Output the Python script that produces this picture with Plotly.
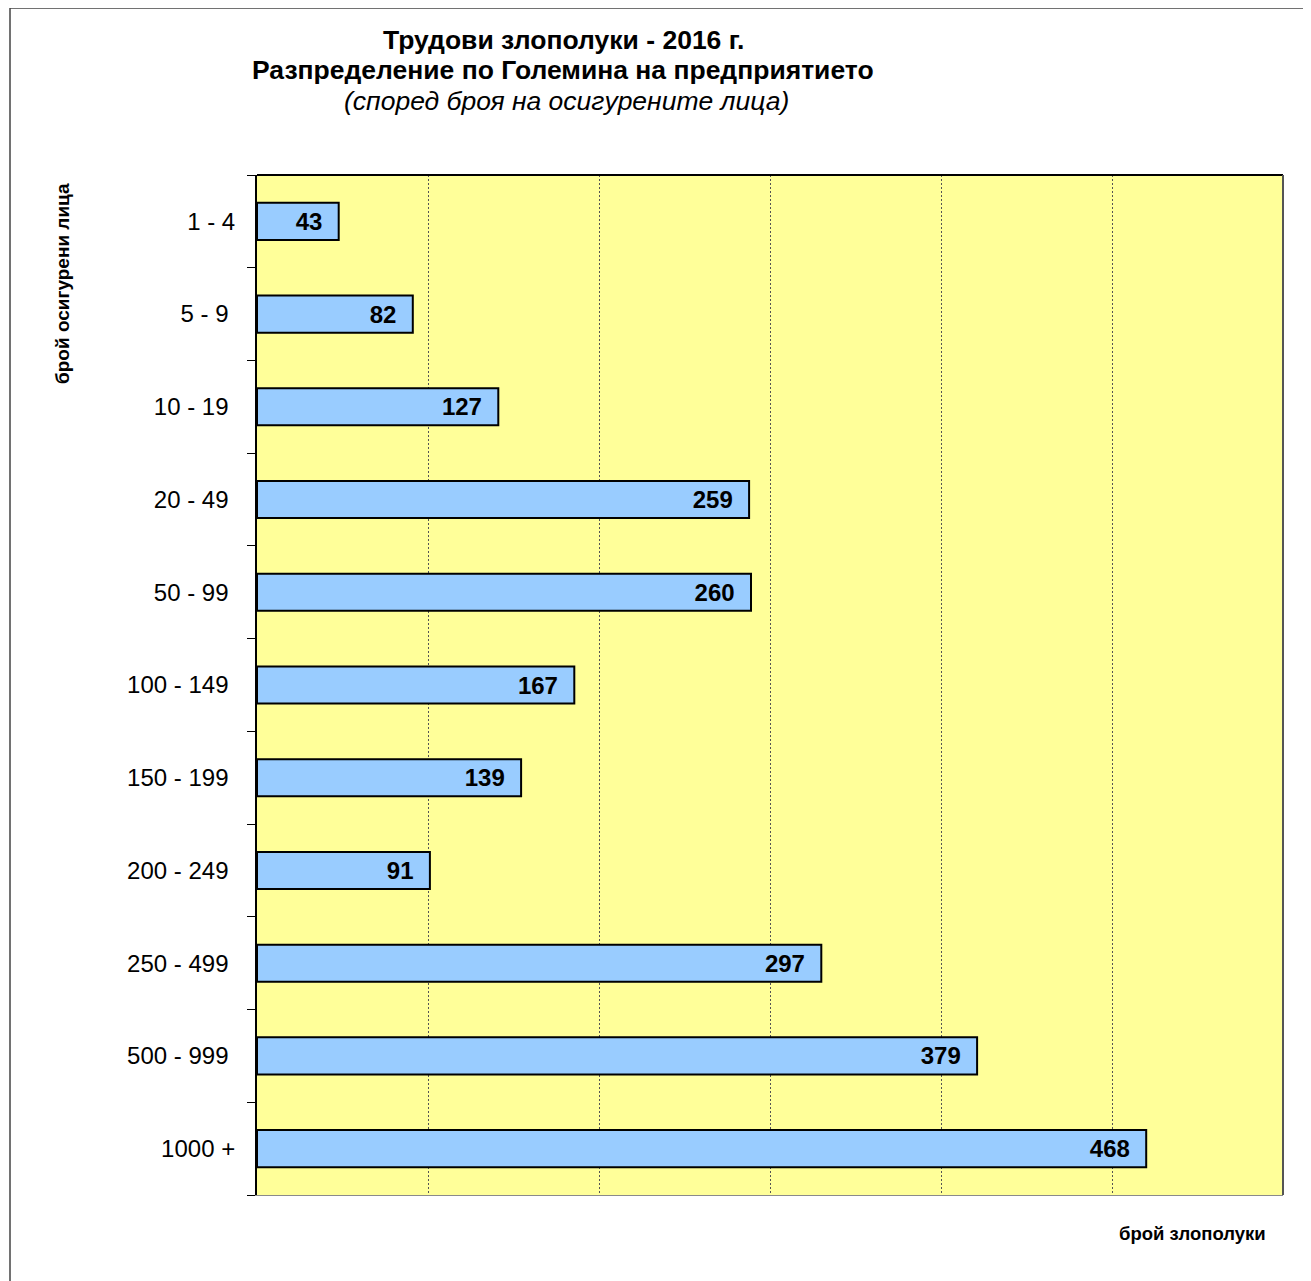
import plotly.graph_objects as go

categories = ["1 - 4", "5 - 9", "10 - 19", "20 - 49", "50 - 99", "100 - 149",
              "150 - 199", "200 - 249", "250 - 499", "500 - 999", "1000 +"]
accidents = [43, 82, 127, 259, 260, 167, 139, 91, 297, 379, 468]
# tick labels as shown (most carry a trailing space in the original)
tick_labels = ["1 - 4", "5 - 9\u00a0", "10 - 19\u00a0", "20 - 49\u00a0", "50 - 99\u00a0",
               "100 - 149\u00a0", "150 - 199\u00a0", "200 - 249\u00a0", "250 - 499\u00a0",
               "500 - 999\u00a0", "1000 +"]

OFF = 8  # page body margin
W, H = 1311, 1281
# target plot area in screen pixels
SX0, SX1, SY0, SY1 = 257, 1283, 175, 1195
L, T = SX0 - OFF, SY0 - OFF
R, B = W - (SX1 - OFF), H - (SY1 - OFF)
PW, PH = SX1 - SX0, SY1 - SY0

def px(x):
    return (x - SX0) / PW

def py(y):
    return (SY1 - y) / PH

FONT = "Liberation Sans, Arial, sans-serif"

fig = go.Figure(go.Bar(
    x=accidents,
    y=categories,
    orientation="h",
    marker=dict(color="#99CCFF", line=dict(color="black", width=2)),
    texttemplate="<b>%{x}</b>\u00a0\u00a0",
    textposition="inside",
    insidetextanchor="end",
    constraintext="none",
    textfont=dict(family=FONT, size=24, color="black"),
    hoverinfo="skip",
))

fig.update_layout(
    width=W, height=H,
    margin=dict(l=L, r=R, t=T, b=B, autoexpand=False),
    paper_bgcolor="white",
    plot_bgcolor="#FFFF99",
    bargap=0.6,
    showlegend=False,
    font=dict(family=FONT, color="black"),
)

fig.update_xaxes(
    range=[0, 540], dtick=90, tick0=0,
    showticklabels=False, ticks="",
    showgrid=True, gridcolor="#555555", gridwidth=1, griddash="2px,2px",
    zeroline=False,
    showline=True, linecolor="#8a8a8a", linewidth=1,
)
fig.update_yaxes(
    autorange="reversed",
    tickmode="array", tickvals=categories, ticktext=tick_labels,
    tickson="boundaries", ticks="outside", ticklen=8, tickcolor="black", tickwidth=1,
    ticklabelstandoff=15,
    tickfont=dict(family=FONT, size=24, color="black"),
    showline=True, linecolor="black", linewidth=2,
    showgrid=False,
)

# plot-area top and right borders
fig.add_shape(type="line", xref="paper", yref="paper", x0=0, x1=1, y0=1, y1=1,
              line=dict(color="black", width=2))
fig.add_shape(type="line", xref="paper", yref="paper", x0=1, x1=1, y0=0, y1=1,
              line=dict(color="#555555", width=2))

# outer chart frame
fig.add_shape(type="rect", xref="paper", yref="paper",
              x0=px(10), x1=px(W + 40), y0=py(H + 40), y1=py(8),
              line=dict(color="#444444", width=1.5), fillcolor="rgba(0,0,0,0)")

title_lines = [
    ("<b>Трудови злополуки - 2016 г.</b>", 40, 563),
    ("<b>Разпределение по Големина на предприятието</b>", 70, 563),
    ("<i>(според броя на осигурените лица)</i>", 101, 566),
]
for txt, yy, xx in title_lines:
    fig.add_annotation(
        x=px(xx), y=py(yy), xref="paper", yref="paper",
        text=txt, showarrow=False, xanchor="center", yanchor="middle",
        font=dict(family=FONT, size=26.5, color="black"),
    )

fig.add_annotation(
    x=px(63), y=py(284), xref="paper", yref="paper",
    text="<b>брой осигурени лица</b>", textangle=-90,
    showarrow=False, xanchor="center", yanchor="middle",
    font=dict(family=FONT, size=19, color="black"),
)
fig.add_annotation(
    x=px(1192), y=py(1233), xref="paper", yref="paper",
    text="<b>брой злополуки</b>",
    showarrow=False, xanchor="center", yanchor="middle",
    font=dict(family=FONT, size=18.5, color="black"),
)

fig.write_html("out.html")
